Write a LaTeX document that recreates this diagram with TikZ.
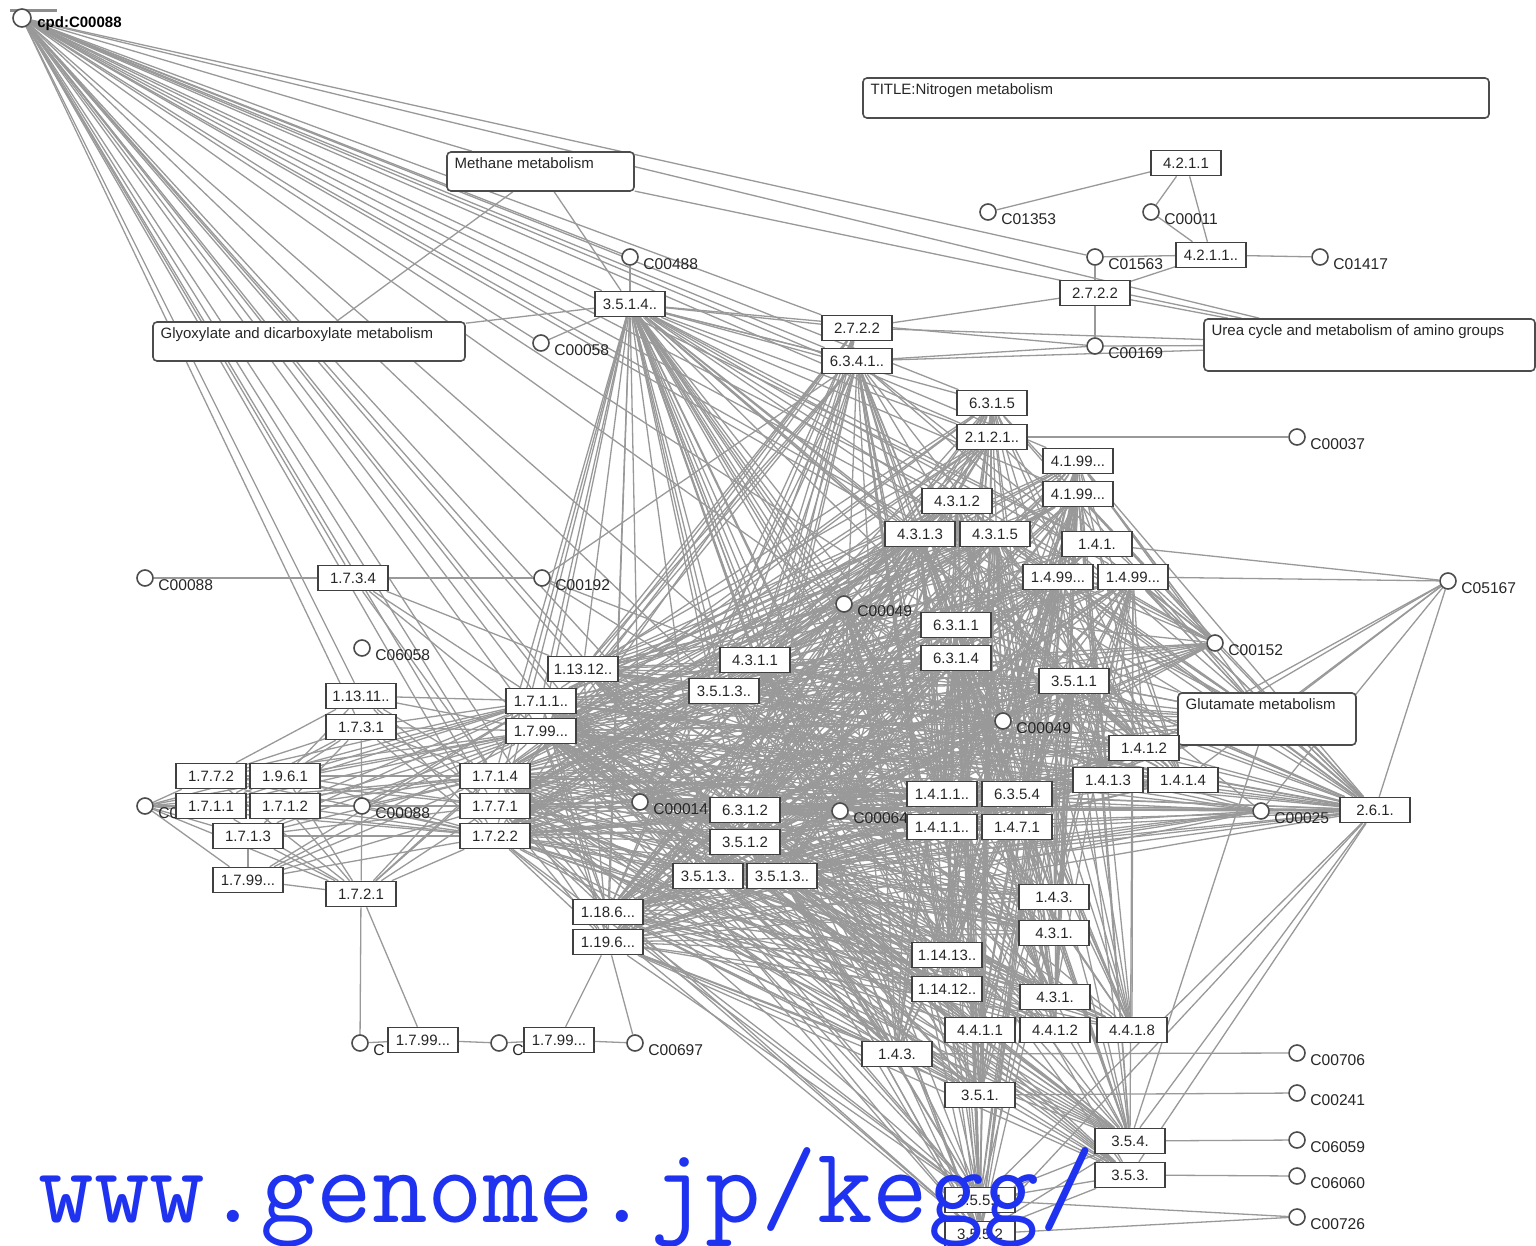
\documentclass[tikz,border=0pt]{standalone}
\usepackage{fontspec}
\setmainfont{Liberation Sans}
\usetikzlibrary{backgrounds,fit}
\definecolor{wmblue}{RGB}{30,50,240}
\tikzset{
  edge/.style={draw=black!40, line width=0.65pt},
  enz/.style={draw=black!75, fill=white, line width=0.8pt, minimum width=35pt,
    minimum height=12.5pt, inner sep=0pt, font=\fontsize{7.5}{8}\selectfont, text=black!85},
  cpd/.style={circle, draw=black!70, fill=white, line width=0.8pt, minimum size=8pt, inner sep=0pt},
  clab/.style={anchor=west, inner sep=0pt, font=\fontsize{7.8}{8}\selectfont, text=black!85},
  pbox/.style={draw=black!70, fill=white, rounded corners=2pt, line width=0.8pt, inner sep=0pt},
  ptext/.style={anchor=north west, inner sep=0pt, font=\fontsize{7.5}{8}\selectfont, text=black!85},
  wmark/.style={anchor=base west, inner sep=0pt, text=wmblue, font=\ttfamily\fontsize{54}{54}\selectfont},
}
% compound: name, x, y, label
\newcommand\cpdnode[4]{\node[cpd] (#1) at (#2,#3) {}; \node[clab] (#1l) at (#2+13,#3+7) {#4};}
% enzyme box: name, x, y, text
\newcommand\enz[4]{\node[enz] (#1) at (#2,#3) {#4};}
% pathway box: name, x1, y1, x2, y2, text
\newcommand\pathbox[6]{\node[pbox, fit={(#2,#3) (#4,#5)}] (#1) {};
  \node[ptext] (#1t) at ([xshift=4pt,yshift=-3pt]#1.north west) {#6};}
% partial bipartite wiring between two lists (given as macros)
\newcommand\wire[4]{\foreach \a [count=\i] in #1 {\foreach \b [count=\j] in #2 {%
  \pgfmathtruncatemacro\kk{mod(\i*3+\j*5+\i*\j,#3)}%
  \ifnum\kk<#4 \draw[edge] (\a) -- (\b);\fi}}}
\begin{document}
\begin{tikzpicture}[x=0.5pt,y=-0.5pt]
\begin{scope}[on background layer]
  \fill[white] (0,0) rectangle (1536,1246);
\end{scope}
\useasboundingbox (0,0) rectangle (1536,1246);

% pathway maps
\pathbox{pTitle}{863}{78}{1489}{118}{TITLE:Nitrogen metabolism}
\pathbox{pMeth}{447}{152}{634}{191}{Methane metabolism}
\pathbox{pGlyox}{153}{322}{465}{361}{Glyoxylate and dicarboxylate metabolism}
\pathbox{pUrea}{1204}{319}{1535}{371}{Urea cycle and metabolism of amino groups}
\pathbox{pGlut}{1178}{693}{1356}{745}{Glutamate metabolism}

% compounds
\draw[black!45, line width=1.5pt] (10,11) -- (57,11);
\node[cpd, minimum size=9pt] (cA) at (22,18) {};
\node[clab, font=\bfseries\fontsize{7.5}{8}\selectfont, text=black] (cAl) at (37,24) {cpd:C00088};
\cpdnode{c01353}{988}{212}{C01353}
\cpdnode{c00011}{1151}{212}{C00011}
\cpdnode{c01563}{1095}{257}{C01563}
\cpdnode{c01417}{1320}{257}{C01417}
\cpdnode{c00488}{630}{257}{C00488}
\cpdnode{c00058}{541}{343}{C00058}
\cpdnode{c00169}{1095}{346}{C00169}
\cpdnode{c00037}{1297}{437}{C00037}
\cpdnode{c00088a}{145}{578}{C00088}
\cpdnode{c00192}{542}{578}{C00192}
\cpdnode{c05167}{1448}{581}{C05167}
\cpdnode{c00049a}{844}{604}{C00049}
\cpdnode{c06058}{362}{648}{C06058}
\cpdnode{c00152}{1215}{643}{C00152}
\cpdnode{c00049b}{1003}{721}{C00049}
\cpdnode{c0l}{145}{806}{C0}
\cpdnode{c00088b}{362}{806}{C00088}
\cpdnode{c00014}{640}{802}{C00014}
\cpdnode{c00064}{840}{811}{C00064}
\cpdnode{c00025}{1261}{811}{C00025}
\cpdnode{cB1}{360}{1043}{C}
\cpdnode{cB2}{499}{1043}{C}
\cpdnode{c00697}{635}{1043}{C00697}
\cpdnode{c00706}{1297}{1053}{C00706}
\cpdnode{c00241}{1297}{1093}{C00241}
\cpdnode{c06059}{1297}{1140}{C06059}
\cpdnode{c06060}{1297}{1176}{C06060}
\cpdnode{c00726}{1297}{1217}{C00726}

% enzymes
\enz{e4211}{1186}{163}{4.2.1.1}
\enz{e4211b}{1211}{255}{4.2.1.1..}
\enz{e2722r}{1095}{293}{2.7.2.2}
\enz{e2722m}{857}{328}{2.7.2.2}
\enz{e6341}{857}{361}{6.3.4.1..}
\enz{e3514}{630}{304}{3.5.1.4..}
\enz{e6315}{992}{403}{6.3.1.5}
\enz{e2121}{992}{437}{2.1.2.1..}
\enz{e4199a}{1078}{461}{4.1.99...}
\enz{e4199b}{1078}{494}{4.1.99...}
\enz{e4312}{957}{501}{4.3.1.2}
\enz{e4313}{920}{534}{4.3.1.3}
\enz{e4315}{995}{534}{4.3.1.5}
\enz{e141}{1097}{544}{1.4.1.}
\enz{e1499a}{1058}{577}{1.4.99...}
\enz{e1499b}{1133}{577}{1.4.99...}
\enz{e1734}{353}{578}{1.7.3.4}
\enz{e6311}{956}{625}{6.3.1.1}
\enz{e6314}{956}{658}{6.3.1.4}
\enz{e4311}{755}{660}{4.3.1.1}
\enz{e3513u}{724}{691}{3.5.1.3..}
\enz{e11312}{583}{669}{1.13.12..}
\enz{e11311}{361}{696}{1.13.11..}
\enz{e1731}{361}{727}{1.7.3.1}
\enz{e1711u}{541}{701}{1.7.1.1..}
\enz{e1799u}{541}{731}{1.7.99...}
\enz{e3511}{1074}{681}{3.5.1.1}
\enz{e1412}{1144}{748}{1.4.1.2}
\enz{e1413}{1108}{780}{1.4.1.3}
\enz{e1414}{1183}{780}{1.4.1.4}
\enz{e261}{1375}{810}{2.6.1.}
\enz{e1772}{211}{776}{1.7.7.2}
\enz{e1961}{285}{776}{1.9.6.1}
\enz{e1711}{211}{806}{1.7.1.1}
\enz{e1712}{285}{806}{1.7.1.2}
\enz{e1713}{248}{836}{1.7.1.3}
\enz{e1799l}{248}{880}{1.7.99...}
\enz{e1721}{361}{894}{1.7.2.1}
\enz{e1714}{495}{776}{1.7.1.4}
\enz{e1771}{495}{806}{1.7.7.1}
\enz{e1722}{495}{836}{1.7.2.2}
\enz{e6312}{745}{810}{6.3.1.2}
\enz{e3512}{745}{842}{3.5.1.2}
\enz{e3513a}{708}{876}{3.5.1.3..}
\enz{e3513b}{782}{876}{3.5.1.3..}
\enz{e1411a}{942}{794}{1.4.1.1..}
\enz{e1411b}{942}{827}{1.4.1.1..}
\enz{e6354}{1017}{794}{6.3.5.4}
\enz{e1471}{1017}{827}{1.4.7.1}
\enz{e1861}{608}{912}{1.18.6...}
\enz{e1961b}{608}{942}{1.19.6...}
\enz{e143a}{1054}{897}{1.4.3.}
\enz{e431a}{1054}{933}{4.3.1.}
\enz{e11413}{947}{955}{1.14.13..}
\enz{e11412}{947}{989}{1.14.12..}
\enz{e431b}{1055}{997}{4.3.1.}
\enz{e4411}{980}{1030}{4.4.1.1}
\enz{e4412}{1055}{1030}{4.4.1.2}
\enz{e4418}{1132}{1030}{4.4.1.8}
\enz{e143b}{897}{1054}{1.4.3.}
\enz{e351}{980}{1095}{3.5.1.}
\enz{e354}{1130}{1141}{3.5.4.}
\enz{e353}{1130}{1175}{3.5.3.}
\enz{e3551}{980}{1200}{3.5.5.1}
\enz{e3552}{980}{1234}{3.5.5.2}
\enz{e1799b1}{423}{1040}{1.7.99...}
\enz{e1799b2}{559}{1040}{1.7.99...}

% reaction links, kept behind all boxes
\def\LC{e3514,e11312,e1711u,e1799u,e1714,e1771,e1722,c00014,e6312,e3512,
  e3513a,e3513b,e1861,e1961b,e4311,e3513u}
\def\RC{e6341,e2722m,e2121,e6315,e4312,e4313,e4315,e4199a,e4199b,e141,e1499a,
  e1499b,e6311,e6314,e3511,e1412,e1413,e1414,e1411a,e1411b,e6354,e1471,e143a,
  e431a,e11413,e11412,e431b,e4411,e4412,e4418,e143b,e351,e354,e353,e3551,e3552,
  c00049a,c00049b,c00064,c00152,pGlut,e261,c00025}
\def\RT{e6341,e2121,e6315,e4312,e4313,e4315,e4199a,e4199b,e141,e1499a,e1499b,
  e6311,e6314,e3511,c00049a}
\def\RB{e3551,e3552,e354,e353,e351,e4411,e4412,e4418,e143b,e431b,e431a,e143a,
  e11413,e11412,e1411a,e1411b,e6354,e1471,e1412,e1413,e1414,c00049b,c00064,e261,
  c00025,pGlut,c00152}
\def\LMa{e11312,e1711u,e1799u,e1714,e1771,e1722}
\def\LMb{c00014,e6312,e3512,e3513a,e3513b,e1861,e1961b,e4311,e3513u}
\begin{scope}[on background layer]
  % fan from the top-left compound
  \foreach \b in {pMeth,pGlyox,pUrea,c01563,e3514,e2722m,e6341,e2121,e6315,e4312,
    e4199a,e1499a,e141,e6311,c00049a,pGlut,e11311,e1731,e1711u,e1799u,e11312,
    e1714,e1771,e1722,e4311,e3513u,e6312,e3512,e1861,c00014,e1734,c00058,c00488,
    e4313,e3513a}
    \draw[edge] (cA) -- (\b);
  % left-centre cluster to right-centre cluster
  \wire{\LC}{\RC}{9}{6}
  % upper right cluster down to the lower hubs
  \wire{\RT}{\RB}{7}{5}
  % fan below 3.5.1.4..
  \foreach \b in {e11312,e1711u,e1799u,e1714,e1771,e1722,c00014,e6312,e3512,
    e3513a,e3513b,e1861,e1961b,e4311,e3513u,e143b,e351,e3551,e3552,e2722m,e6341}
    \draw[edge] (e3514) -- (\b);
  % inside the left-centre cluster
  \wire{\LMa}{\LMb}{5}{4}
  % left cluster
  \foreach \a in {e1772,e1961,e1711,e1712,e1713,e1799l,e1721,c0l,c00088b,e11311,e1731}
    \foreach \b in {e1714,e1771,e1722,e1711u,e1799u}
      \draw[edge] (\a) -- (\b);
  \foreach \a/\b in {c0l/e1772,c0l/e1711,c0l/e1713,c0l/e1799l,c0l/e1721,
    e1713/e1799l,e1799l/e1721,e11311/e1772,e11311/e1961,e1731/e1772,e1731/e1961,
    e1731/e1711,e1731/e1712,e1731/c00088b,c00088b/e1721,e1721/cB1,e1721/e1799b1,
    e1721/e1713,e1721/e1711,e1721/e1712,e1721/e1772,e1721/e1961,e1772/e1712,
    e1961/e1711,e1713/e1712}
    \draw[edge] (\a) -- (\b);
  % bottom chain
  \foreach \a/\b in {cB1/e1799b1,e1799b1/cB2,cB2/e1799b2,e1799b2/c00697,
    e1799b2/e1961b,c00697/e1961b}
    \draw[edge] (\a) -- (\b);
  % top right
  \foreach \a/\b in {c01353/e4211,c00011/e4211,e4211/e4211b,c00011/e4211b,
    c01563/e4211b,e4211b/c01417,e4211b/e2722r,c01563/e2722r,e2722r/c00169,
    e2722r/pUrea,e2722r/e2722m,c00169/e6341,c00169/pUrea,c00169/e3514,
    e2722m/pUrea,e6341/pUrea,pMeth/pGlyox,pMeth/e3514,pGlyox/e3514,
    c00488/e3514,c00058/e3514,pMeth/pUrea,e2121/c00037}
    \draw[edge] (\a) -- (\b);
  % 1.7.3.4 and its neighbours
  \foreach \a/\b in {c00088a/e1734,e1734/c00192,e1734/e1714,e1734/e1711u,
    e1734/e11312,e1734/e1799u,c00192/e4311,c00192/e6341,c00192/e3513u}
    \draw[edge] (\a) -- (\b);
  % right side
  \foreach \a/\b in {c05167/e1499b,c05167/e141,c05167/pGlut,c05167/e261,
    c05167/e1412,c05167/e1414,c05167/c00025,c05167/e1413,
    c00152/e261,c00152/e1499b,c00152/e2121,c00152/e4199a,
    pGlut/e261,pGlut/e1499b,pGlut/e1412,pGlut/e354,
    e261/c00025,e261/e3551,e261/e354,e261/e353,e261/e1414,e261/e1413,
    e261/e1412,e261/e1499b,e261/e3511,e261/e1411a,e261/e3552}
    \draw[edge] (\a) -- (\b);
  % bottom right
  \foreach \a/\b in {e143b/c00706,e351/c00241,e354/c06059,e353/c06060,
    e3551/c00726,e3552/c00726,e354/e3551,e354/e3552,e353/e3551,e353/e3552}
    \draw[edge] (\a) -- (\b);
\end{scope}

\node[wmark] (wm) at (38,1222) {www.genome.jp/kegg/};
\end{tikzpicture}
\end{document}
